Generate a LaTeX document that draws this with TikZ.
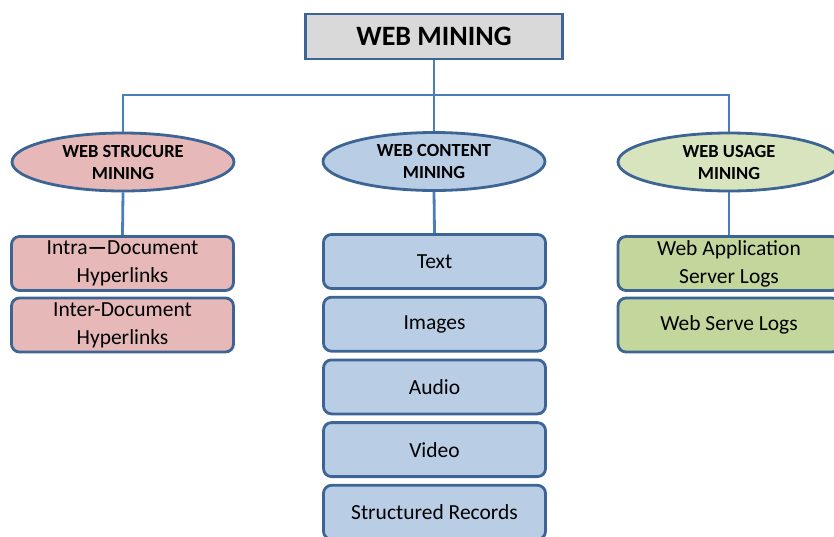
\documentclass[tikz,border=0pt]{standalone}
\usepackage{fontspec}
\setmainfont{Carlito}
\usepackage{tikz}
\usetikzlibrary{shapes.geometric}
\definecolor{edgeblue}{HTML}{3C6494}
\definecolor{linkblue}{HTML}{4A7EBB}
\definecolor{topgray}{HTML}{D9D9D9}
\definecolor{structpink}{HTML}{E6B9B8}
\definecolor{contentblue}{HTML}{B9CDE5}
\definecolor{usagegreen}{HTML}{D7E4BD}
\definecolor{usagebox}{HTML}{C3D69B}
\tikzset{
  topbox/.style={draw=edgeblue, line width=2.8pt, fill=topgray, minimum width=257pt, minimum height=45pt, font=\fontsize{28}{32}\selectfont\bfseries},
  branch/.style={ellipse, draw=edgeblue, line width=2.8pt, minimum width=222pt, minimum height=58pt, inner sep=0pt, align=center, font=\fontsize{18.5}{22}\selectfont\bfseries},
  leaf/.style={draw=edgeblue, line width=2.8pt, rounded corners=8pt, minimum width=222pt, minimum height=54pt, inner sep=0pt, align=center, font=\fontsize{21.5}{28}\selectfont},
  link/.style={draw=linkblue, line width=2.8pt}
}
\begin{document}
\begin{tikzpicture}[x=1pt,y=-1pt]
  \useasboundingbox (0,0) rectangle (834,536);

  \node[topbox] (web) at (434,36.5) {WEB MINING};
  \coordinate (bus) at (434,95);

  % the three kinds of mining
  \node[branch, fill=structpink] (struct) at (123,162) {WEB STRUCURE\\MINING};
  \node[branch, fill=contentblue] (content) at (434,161.5) {WEB CONTENT\\MINING};
  \node[branch, fill=usagegreen] (usage) at (729,162) {WEB USAGE\\MINING};

  \draw[link] (web.south) -- (bus);
  \draw[link] (bus) -| (struct.north);
  \draw[link] (bus) -| (usage.north);
  \draw[link] (bus) -- (content.north);

  % structure mining
  \node[leaf, fill=structpink] (intra) at (122.5,263.5) {Intra\textbf{---}Document\\Hyperlinks};
  \node[leaf, fill=structpink] (inter) at (122.5,325) {Inter-Document\\Hyperlinks};
  \draw[link] (struct.south) -- (intra.north);

  % content mining
  \foreach \lbl [count=\j] in {Text,Images,Audio,Video,Structured Records}
  {
    \node[leaf, fill=contentblue] (c\j) at (434.5,{261.5+62.7*(\j-1)}) {\lbl};
  }
  \draw[link] (content.south) -- (c1.north);

  % usage mining
  \node[leaf, fill=usagebox] (applog) at (729,263.5) {Web Application\\Server Logs};
  \node[leaf, fill=usagebox] (servelog) at (729,325) {Web Serve Logs};
  \draw[link] (usage.south) -- (applog.north);
\end{tikzpicture}
\end{document}
